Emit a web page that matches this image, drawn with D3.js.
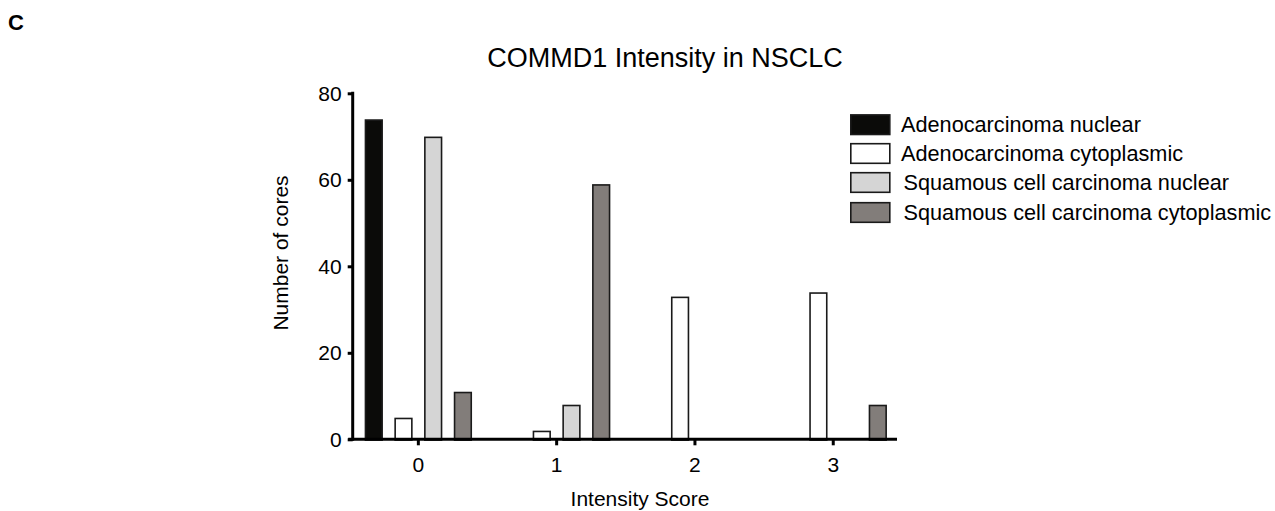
<!DOCTYPE html>
<html>
<head>
<meta charset="utf-8">
<script src="https://d3js.org/d3.v7.min.js"></script>
<style>
  html, body { margin: 0; padding: 0; background: #fff; }
  svg { display: block; font-family: "Liberation Sans", Arial, sans-serif; }
</style>
</head>
<body>
<svg id="chart" width="1275" height="511"></svg>
<script>
const categories = ["0", "1", "2", "3"];
const seriesNames = [
  "Adenocarcinoma nuclear",
  "Adenocarcinoma cytoplasmic",
  "Squamous cell carcinoma nuclear",
  "Squamous cell carcinoma cytoplasmic"
];
const adenoNuclear = [74, 0, 0, 0];
const adenoCytoplasmic = [5, 2, 33, 34];
const squamousNuclear = [70, 8, 0, 0];
const squamousCytoplasmic = [11, 59, 0, 8];
const yTicks = [0, 20, 40, 60, 80];
const seriesColors = ["#0b0b09", "#ffffff", "#d5d5d5", "#827d7a"];

const seriesValues = [adenoNuclear, adenoCytoplasmic, squamousNuclear, squamousCytoplasmic];

const svg = d3.select("#chart");
const axisX = 352.7, plotTop = 93.3, plotBottom = 439.3, axisEnd = 897;

const y = d3.scaleLinear().domain([0, 80]).range([plotBottom, plotTop]);
const x0 = d3.scaleBand().domain(categories).range([349.2, 902.4])
  .paddingInner(0.2234).paddingOuter(0.1117);
const x1 = d3.scaleBand().domain(d3.range(seriesNames.length))
  .range([0, x0.bandwidth()]).paddingInner(0.384).paddingOuter(0);

// Panel letter
svg.append("text").attr("x", 8).attr("y", 30)
  .attr("font-size", 22).attr("font-weight", "bold").attr("fill", "#000").text("C");

// Title
svg.append("text").attr("x", 665).attr("y", 66.5).attr("text-anchor", "middle")
  .attr("font-size", 27).attr("fill", "#000").text("COMMD1 Intensity in NSCLC");

// Bars
const sw = 1.6;
const groups = svg.append("g").selectAll("g").data(categories).join("g")
  .attr("transform", d => `translate(${x0(d)},0)`);
groups.selectAll("rect")
  .data((c, ci) => seriesValues.map((vals, si) => ({ si, v: vals[ci] })).filter(d => d.v > 0))
  .join("rect")
  .attr("x", d => x1(d.si) + sw / 2)
  .attr("width", x1.bandwidth() - sw)
  .attr("y", d => y(d.v) + sw / 2)
  .attr("height", d => y(0) - y(d.v))
  .attr("fill", d => seriesColors[d.si])
  .attr("stroke", "#1a1a1a")
  .attr("stroke-width", sw);

// Y axis
const yAxis = svg.append("g").attr("transform", `translate(${axisX},0)`)
  .call(d3.axisLeft(y).tickValues(yTicks).tickSize(5).tickPadding(6).tickSizeOuter(0));
yAxis.select(".domain").remove();
yAxis.selectAll(".tick line").attr("stroke", "#000").attr("stroke-width", 3);
yAxis.selectAll(".tick text").attr("font-size", 21).attr("fill", "#000")
  .attr("font-family", "Liberation Sans, Arial, sans-serif");
svg.append("line").attr("x1", axisX).attr("x2", axisX)
  .attr("y1", plotTop - 1.5).attr("y2", plotBottom + 1.5)
  .attr("stroke", "#000").attr("stroke-width", 3);

// X axis
const xAxis = svg.append("g").attr("transform", `translate(0,${plotBottom})`)
  .call(d3.axisBottom(x0).tickSize(6).tickPadding(12).tickSizeOuter(0));
xAxis.select(".domain").remove();
xAxis.selectAll(".tick line").attr("stroke", "#000").attr("stroke-width", 3);
xAxis.selectAll(".tick text").attr("font-size", 21).attr("fill", "#000")
  .attr("font-family", "Liberation Sans, Arial, sans-serif");
svg.append("line").attr("x1", axisX - 4.5).attr("x2", axisEnd)
  .attr("y1", plotBottom).attr("y2", plotBottom)
  .attr("stroke", "#000").attr("stroke-width", 3);

// Axis titles
svg.append("text").attr("transform", "translate(288,253) rotate(-90)")
  .attr("text-anchor", "middle").attr("font-size", 21).attr("fill", "#000")
  .text("Number of cores");
svg.append("text").attr("x", 640).attr("y", 506).attr("text-anchor", "middle")
  .attr("font-size", 21).attr("fill", "#000").text("Intensity Score");

// Legend
const legendRows = [124.7, 153.5, 182.5, 212.5];
const textX = [901, 901, 903.5, 903.5];
const legend = svg.append("g").selectAll("g").data(seriesNames).join("g")
  .attr("transform", (d, i) => `translate(850,${legendRows[i]})`);
legend.append("rect").attr("x", 0.8).attr("y", -9.8).attr("width", 39).attr("height", 19.6)
  .attr("fill", (d, i) => seriesColors[i]).attr("stroke", "#1a1a1a").attr("stroke-width", 1.6);
legend.append("text").attr("x", (d, i) => textX[i] - 850).attr("y", 7.5)
  .attr("font-size", 21.7).attr("fill", "#000").text(d => d);
</script>
</body>
</html>
